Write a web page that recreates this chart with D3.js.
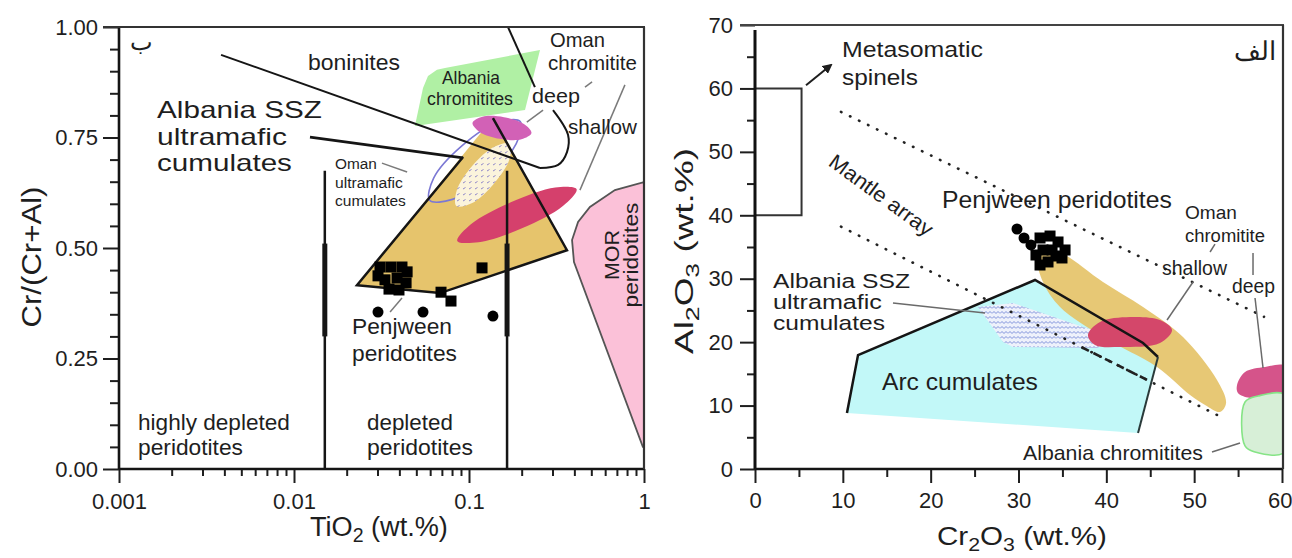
<!DOCTYPE html>
<html>
<head>
<meta charset="utf-8">
<script src="https://cdn.jsdelivr.net/npm/d3@7"></script>
<style>
  body { margin: 0; background: #fff; }
  text { font-family: "Liberation Sans", Arial, sans-serif; fill: #1e1e1e; }
</style>
</head>
<body>
<svg id="chart" width="1292" height="558"></svg>
<script>
// ---------- left panel (TiO2 vs Cr#) ----------
const yTicksL = [0, 0.25, 0.5, 0.75, 1];
const xTicksL = [0.001, 0.01, 0.1, 1];
const xTickLabelsL = ["0.001", "0.01", "0.1", "1"];

const penjSquaresL = [[0.0310,0.457],[0.0358,0.457],[0.0414,0.457],[0.0443,0.446],[0.0302,0.437],
  [0.0331,0.428],[0.0388,0.432],[0.0349,0.407],[0.0398,0.405],[0.0437,0.421],[0.0692,0.400],
  [0.0789,0.380],[0.1187,0.455]];
const penjCirclesL = [[0.0302,0.355],[0.0546,0.355],[0.137,0.346]];

const yellowL = [[0.0229,0.416],[0.0683,0.398],[0.363,0.495],[0.137,0.794]];
const yellowEdgeL = [[0.0925,0.706],[0.0229,0.416],[0.0683,0.398],[0.363,0.495],[0.137,0.794]];
const greenL = [[0.0491,0.776],[0.0546,0.862],[0.0583,0.889],[0.0656,0.903],[0.0729,0.907],[0.2545,0.948],[0.209,0.812]];
const deepL = [[0.2275,0.760],[0.1995,0.746],[0.150,0.747],[0.1156,0.762],[0.1047,0.783],[0.1194,0.797],[0.1585,0.796],[0.206,0.7805]];
const shallowL = [[0.412,0.633],[0.344,0.595],[0.2023,0.545],[0.1135,0.513],[0.0857,0.516],[0.1025,0.554],[0.1746,0.604],[0.311,0.637]];
const omanCumL = [[0.1706,0.736],[0.170,0.700],[0.1384,0.645],[0.1035,0.601],[0.0847,0.595],[0.0851,0.630],[0.1045,0.686],[0.1393,0.729]];
const omanOutlineL = [[0.1963,0.786],[0.1862,0.736],[0.1285,0.663],[0.0804,0.610],[0.0596,0.608],[0.0628,0.658],[0.0910,0.731],[0.1459,0.784]];
const morL = [[1.0,0.649],[0.682,0.631],[0.491,0.593],[0.420,0.559],[0.388,0.518],[0.398,0.468],[0.985,0.05],[1.0,0.05]];

const boninLine = [[0.00383,0.937],[0.2545,0.681]];
const boninCurve = [[0.2545,0.681],[0.323,0.688],[0.363,0.717],[0.368,0.756],[0.302,0.812]];
const boninTop = [[0.167,1.0],[0.238,0.864]];
const sszPointerL = [[0.01234,0.751],[0.0925,0.704]];
const depletionBounds = [0.015, 0.165];
const boundTop = 0.675, thickRange = [0.30, 0.51];
const greyPointersL = [
  [[0.778,0.869],[0.4305,0.631]],
  [[0.460,0.864],[0.505,0.876]],
  [[0.265,0.812],[0.214,0.785]],
  [[0.0318,0.692],[0.0443,0.672]],
  [[0.0354,0.355],[0.0414,0.387]]
];

// ---------- right panel (Cr2O3 vs Al2O3) ----------
const xTicksR = [0, 10, 20, 30, 40, 50, 60];
const yTicksR = [0, 10, 20, 30, 40, 50, 60, 70];

const penjSquaresR = [[32.45,36.42],[33.59,36.73],[34.50,35.79],[35.30,34.53],[34.95,33.27],[33.82,34.53],
  [32.79,34.53],[31.99,33.74],[32.45,32.16],[33.36,32.64],[34.27,33.58]];
const penjCirclesR = [[29.83,37.84],[30.63,36.42],[31.42,35.32]];

const metaBracket = [[0,60],[5.3,60],[5.3,40],[0,40]];
const metaArrow = [[5.81,60.5],[8.65,63.7]];
const mantleUpper = [[9.79,56.3],[57.95,24.0]];
const mantleLower = [[9.79,38.2],[53.06,8.2]];
const mantleDash = [[37.2,19.2],[45.0,13.8]];
const arcR = [[10.47,8.83],[11.73,17.97],[31.88,29.80],[44.18,19.86],[45.88,17.66],[43.61,5.68]];
const yellowR = [[32.22,33.27],[33.59,34.53],[35.30,33.74],[39.62,29.48],[44.18,25.54],[48.73,20.81],
  [52.60,14.03],[53.63,10.41],[52.94,8.99],[51.24,10.09],[49.53,11.67],[45.77,16.08],[39.62,20.81],
  [34.73,25.54],[32.79,29.48]];
const sszR = [[25.39,25.54],[29.37,26.17],[37.34,22.39],[41.56,20.65],[38.94,19.08],[29.37,19.23],[28.24,20.02]];
const shallowR = [[37.91,21.13],[39.28,23.18],[42.70,23.96],[46.11,23.49],[47.48,21.91],[46.11,19.86],[41.56,19.23],[38.71,19.55]];
const deepR = [[54.88,13.24],[55.79,15.29],[58.07,16.08],[60.34,16.24],[60.34,11.19],[56.36,11.19],[54.99,11.98]];
const albChromR = [[55.79,10.56],[57.27,11.51],[60.34,11.67],[60.34,2.68],[56.93,2.68],[55.79,3.63]];
const pointersR = [
  [[15.71,26.17],[26.19,24.59]],
  [[52.37,35.47],[51.81,34.21]],
  [[49.87,29.48],[46.91,23.49]],
  [[56.70,34.05],[56.70,30.59]],
  [[56.93,26.96],[57.84,15.92]],
  [[52.03,2.68],[55.22,4.10]]
];

const svg = d3.select("#chart");
const defs = svg.append("defs");

// patterns
const pDot = defs.append("pattern").attr("id", "dotL").attr("patternUnits", "userSpaceOnUse")
  .attr("width", 6).attr("height", 6);
pDot.append("rect").attr("width", 6).attr("height", 6).attr("fill", "#fbf4dc");
pDot.append("path").attr("d", "M1,3 l2.5,-1.5").attr("stroke", "#8f86c9").attr("stroke-width", 1);

const pZig = defs.append("pattern").attr("id", "zigR").attr("patternUnits", "userSpaceOnUse")
  .attr("width", 8).attr("height", 5);
pZig.append("rect").attr("width", 8).attr("height", 5).attr("fill", "#eef1fb");
pZig.append("path").attr("d", "M0,3.5 l2,-2 l2,2 l2,-2 l2,2").attr("fill", "none")
  .attr("stroke", "#7d90da").attr("stroke-width", 1);

defs.append("marker").attr("id", "arrow").attr("viewBox", "0 0 10 10").attr("refX", 8).attr("refY", 5)
  .attr("markerWidth", 5).attr("markerHeight", 5).attr("orient", "auto")
  .append("path").attr("d", "M0,0 L10,5 L0,10 z").attr("fill", "#1e1e1e");

// scales
const xL = d3.scaleLog().domain([0.001, 1]).range([119, 644]);
const yL = d3.scaleLinear().domain([0, 1]).range([469, 27]);
const xR = d3.scaleLinear().domain([0, 60]).range([755, 1282]);
const yR = d3.scaleLinear().domain([0, 70]).range([469, 25]);

defs.append("clipPath").attr("id", "clipL").append("rect")
  .attr("x", 119).attr("y", 27).attr("width", 525).attr("height", 442);
defs.append("clipPath").attr("id", "clipR").append("rect")
  .attr("x", 755).attr("y", 25).attr("width", 528).attr("height", 444);

const lineL = d3.line().x(d => xL(d[0])).y(d => yL(d[1]));
const smoothL = d3.line().x(d => xL(d[0])).y(d => yL(d[1])).curve(d3.curveCatmullRomClosed);
const lineR = d3.line().x(d => xR(d[0])).y(d => yR(d[1]));
const smoothR = d3.line().x(d => xR(d[0])).y(d => yR(d[1])).curve(d3.curveCatmullRomClosed);

// text helper, optional width fit
function label(g, x, y, parts, size, width, opt = {}) {
  const t = g.append("text")
    .attr("font-size", size)
    .attr("text-anchor", opt.anchor || "start");
  if (opt.family) t.attr("font-family", opt.family);
  let shift = 0;
  [].concat(parts).forEach(p => {
    const sub = typeof p !== "string";
    const target = sub ? size * 0.24 : 0;
    const ts = t.append("tspan").attr("dy", target - shift).text(sub ? p.sub : p);
    if (sub) ts.attr("font-size", size * 0.72);
    shift = target;
  });
  let tr = `translate(${x},${y}) rotate(${opt.rot || 0})`;
  if (width) {
    const w = t.node().getComputedTextLength();
    tr += ` scale(${width / w},1)`;
  }
  t.attr("transform", tr);
  return t;
}

// ================= LEFT PANEL =================
const L = svg.append("g");
const fL = L.append("g").attr("clip-path", "url(#clipL)");

fL.append("path").attr("d", lineL(yellowL) + "Z").attr("fill", "#e6c46c");
fL.append("path").attr("d", smoothL(omanOutlineL)).attr("fill", "none")
  .attr("stroke", "#7b78d4").attr("stroke-width", 1.6);
fL.append("path").attr("d", lineL(greenL) + "Z").attr("fill", "#b0f0a4");
fL.append("path").attr("d", smoothL(omanCumL)).attr("fill", "url(#dotL)");
fL.append("path").attr("d", smoothL(shallowL)).attr("fill", "#d5406c");
fL.append("path").attr("d", smoothL(deepL)).attr("fill", "#d261b6");
fL.append("path").attr("d", lineL(morL) + "Z").attr("fill", "#fbc1d8")
  .attr("stroke", "#555").attr("stroke-width", 1.8);

// field boundaries
fL.append("path").attr("d", lineL(yellowEdgeL)).attr("fill", "none")
  .attr("stroke", "#151515").attr("stroke-width", 2.5);
fL.append("path").attr("d", lineL(boninLine)).attr("fill", "none")
  .attr("stroke", "#151515").attr("stroke-width", 2);
fL.append("path").attr("d", d3.line().x(d => xL(d[0])).y(d => yL(d[1])).curve(d3.curveCatmullRom)(boninCurve))
  .attr("fill", "none").attr("stroke", "#151515").attr("stroke-width", 2);
fL.append("path").attr("d", lineL(boninTop)).attr("fill", "none")
  .attr("stroke", "#151515").attr("stroke-width", 2);
fL.append("path").attr("d", lineL(sszPointerL)).attr("fill", "none")
  .attr("stroke", "#151515").attr("stroke-width", 2.8);

depletionBounds.forEach(v => {
  fL.append("line").attr("x1", xL(v)).attr("x2", xL(v)).attr("y1", yL(0)).attr("y2", yL(boundTop))
    .attr("stroke", "#151515").attr("stroke-width", 2.5);
  fL.append("line").attr("x1", xL(v)).attr("x2", xL(v)).attr("y1", yL(thickRange[0])).attr("y2", yL(thickRange[1]))
    .attr("stroke", "#151515").attr("stroke-width", 5);
});

greyPointersL.forEach(p => {
  fL.append("path").attr("d", lineL(p)).attr("stroke", "#7a7a7a").attr("stroke-width", 1.5).attr("fill", "none");
});

// points
fL.selectAll("rect.sq").data(penjSquaresL).join("rect").attr("class", "sq")
  .attr("x", d => xL(d[0]) - 5.5).attr("y", d => yL(d[1]) - 5.5)
  .attr("width", 11).attr("height", 11).attr("fill", "#000");
fL.selectAll("circle.ci").data(penjCirclesL).join("circle").attr("class", "ci")
  .attr("cx", d => xL(d[0])).attr("cy", d => yL(d[1])).attr("r", 5.5).attr("fill", "#000");

// axes left
function styleAxis(g) {
  g.select(".domain").remove();
  g.selectAll(".tick line").attr("stroke", "#1e1e1e").attr("stroke-width", 2);
  g.selectAll(".tick text").attr("font-size", 22).attr("fill", "#111")
    .attr("font-family", "'Liberation Sans', Arial, sans-serif");
}
const yMinorL = d3.range(0, 1.0001, 0.05).filter(v => Math.abs(v * 4 - Math.round(v * 4)) > 1e-6);
L.append("g").attr("transform", "translate(119,0)")
  .call(d3.axisLeft(yL).tickValues(yMinorL).tickSize(9).tickFormat("")).call(styleAxis);
L.append("g").attr("transform", "translate(119,0)")
  .call(d3.axisLeft(yL).tickValues(yTicksL).tickSize(16).tickPadding(5).tickFormat(d3.format(".2f"))).call(styleAxis);

const xMinorL = [];
[0.001, 0.01, 0.1].forEach(dec => { for (let m = 2; m <= 9; m++) xMinorL.push(dec * m); });
L.append("g").attr("transform", "translate(0,469)")
  .call(d3.axisBottom(xL).tickValues(xMinorL).tickSize(7).tickFormat("")).call(styleAxis);
L.append("g").attr("transform", "translate(0,469)")
  .call(d3.axisBottom(xL).tickValues(xTicksL).tickSize(14).tickPadding(10)
    .tickFormat((d, i) => xTickLabelsL[i])).call(styleAxis);

// frame left
L.append("line").attr("x1", 119).attr("x2", 119).attr("y1", yL(1)).attr("y2", yL(0)).attr("stroke", "#151515").attr("stroke-width", 2.6);
L.append("line").attr("x1", 119).attr("x2", xL(1)).attr("y1", yL(0)).attr("y2", yL(0)).attr("stroke", "#151515").attr("stroke-width", 2.4);
L.append("line").attr("x1", 103).attr("x2", xL(1) + 1).attr("y1", yL(1)).attr("y2", yL(1)).attr("stroke", "#333").attr("stroke-width", 2.2);
L.append("line").attr("x1", xL(1)).attr("x2", xL(1)).attr("y1", yL(1)).attr("y2", yL(0)).attr("stroke", "#333").attr("stroke-width", 2.2);

// labels left
label(L, 141, 50, "ب", 24, null, { anchor: "middle", family: "DejaVu Sans" });
label(L, 308, 70, "boninites", 22, 92);
label(L, 157, 118, "Albania SSZ", 23, 165);
label(L, 157, 145, "ultramafic", 23, 130);
label(L, 157, 171, "cumulates", 23, 135);
label(L, 442, 84, "Albania", 17.5, 58);
label(L, 427, 105, "chromitites", 17.5, 86);
label(L, 550, 47, "Oman", 20, 55);
label(L, 548, 70, "chromitite", 20, 89);
label(L, 532, 103, "deep", 21, 48);
label(L, 568, 134, "shallow", 21, 69);
label(L, 335, 169, "Oman", 15.5, 42);
label(L, 335, 188, "ultramafic", 15.5, 68);
label(L, 335, 206, "cumulates", 15.5, 71);
label(L, 619, 255, "MOR", 21, 50, { anchor: "middle", rot: -90 });
label(L, 638, 255, "peridotites", 21, 105, { anchor: "middle", rot: -90 });
label(L, 352, 334, "Penjween", 22, 100);
label(L, 352, 361, "peridotites", 22, 105);
label(L, 138, 430, "highly depleted", 22, 152);
label(L, 138, 455, "peridotites", 22, 105);
label(L, 367, 430, "depleted", 22, 86);
label(L, 367, 455, "peridotites", 22, 106);

label(L, 41, 257, "Cr/(Cr+Al)", 28, 141, { anchor: "middle", rot: -90 });
label(L, 310, 536, ["TiO", { sub: "2" }, " (wt.%)"], 27, 138);

// ================= RIGHT PANEL =================
const R = svg.append("g");
const fR = R.append("g").attr("clip-path", "url(#clipR)");

fR.append("path").attr("d", lineR(arcR) + "Z").attr("fill", "#c2f8f8");
fR.append("path").attr("d", smoothR(yellowR)).attr("fill", "#e4c266").attr("opacity", 0.9);
fR.append("path").attr("d", lineR(sszR) + "Z").attr("fill", "url(#zigR)");
fR.append("path").attr("d", smoothR(shallowR)).attr("fill", "#d4476a");
fR.append("path").attr("d", smoothR(deepR)).attr("fill", "#d5548a");
fR.append("path").attr("d", smoothR(albChromR)).attr("fill", "#d7efd7")
  .attr("stroke", "#86e486").attr("stroke-width", 1.6);

fR.append("path").attr("d", lineR(arcR.slice(0, 5))).attr("fill", "none")
  .attr("stroke", "#151515").attr("stroke-width", 2.5);
fR.append("path").attr("d", lineR(arcR.slice(4, 6))).attr("fill", "none")
  .attr("stroke", "#2a3a3a").attr("stroke-width", 2);

[mantleUpper, mantleLower].forEach(m => {
  fR.append("path").attr("d", lineR(m)).attr("fill", "none").attr("stroke", "#222")
    .attr("stroke-width", 2.6).attr("stroke-linecap", "round").attr("stroke-dasharray", "0.5 9.5");
});
fR.append("path").attr("d", lineR(mantleDash)).attr("fill", "none").attr("stroke", "#222")
  .attr("stroke-width", 2.6).attr("stroke-dasharray", "8 5");

fR.append("path").attr("d", lineR(metaBracket)).attr("fill", "none").attr("stroke", "#333").attr("stroke-width", 2);
fR.append("path").attr("d", lineR(metaArrow)).attr("fill", "none").attr("stroke", "#1e1e1e")
  .attr("stroke-width", 2).attr("marker-end", "url(#arrow)");

pointersR.forEach(p => {
  fR.append("path").attr("d", lineR(p)).attr("stroke", "#6a6a6a").attr("stroke-width", 1.5).attr("fill", "none");
});

fR.selectAll("rect.sq").data(penjSquaresR).join("rect").attr("class", "sq")
  .attr("x", d => xR(d[0]) - 5.5).attr("y", d => yR(d[1]) - 5.5)
  .attr("width", 11).attr("height", 11).attr("fill", "#000");
fR.selectAll("circle.ci").data(penjCirclesR).join("circle").attr("class", "ci")
  .attr("cx", d => xR(d[0])).attr("cy", d => yR(d[1])).attr("r", 5.5).attr("fill", "#000");

// axes right
const yMinorR = d3.range(5, 70, 10);
const xMinorR = d3.range(5, 60, 10);
R.append("g").attr("transform", "translate(755,0)")
  .call(d3.axisLeft(yR).tickValues(yMinorR).tickSize(8).tickFormat("")).call(styleAxis);
R.append("g").attr("transform", "translate(755,0)")
  .call(d3.axisLeft(yR).tickValues(yTicksR).tickSize(15).tickPadding(7)).call(styleAxis);
R.append("g").attr("transform", "translate(0,469)")
  .call(d3.axisBottom(xR).tickValues(xMinorR).tickSize(8).tickFormat("")).call(styleAxis);
const xAxR = R.append("g").attr("transform", "translate(0,469)")
  .call(d3.axisBottom(xR).tickValues(xTicksR).tickSize(14).tickPadding(9)).call(styleAxis);
// last label sits against the page edge
xAxR.selectAll(".tick text").filter(d => d === 60).attr("text-anchor", "end").attr("dx", 10);

// frame right
R.append("line").attr("x1", 755).attr("x2", 755).attr("y1", 30).attr("y2", yR(0)).attr("stroke", "#111").attr("stroke-width", 3);
R.append("line").attr("x1", 755).attr("x2", 1283).attr("y1", yR(0)).attr("y2", yR(0)).attr("stroke", "#151515").attr("stroke-width", 2.4);
R.append("line").attr("x1", 740).attr("x2", 1284).attr("y1", yR(70)).attr("y2", yR(70)).attr("stroke", "#444").attr("stroke-width", 2.2);
R.append("line").attr("x1", 1283).attr("x2", 1283).attr("y1", yR(70)).attr("y2", yR(0)).attr("stroke", "#333").attr("stroke-width", 2.2);

// labels right
label(R, 1276, 60, "الف", 26, null, { anchor: "end", family: "DejaVu Sans" });
label(R, 842, 57, "Metasomatic", 22, 141);
label(R, 842, 85, "spinels", 22, 76);
label(R, 877, 201, "Mantle array", 21, 123, { anchor: "middle", rot: 36 });
label(R, 942, 208, "Penjween peridotites", 23, 230);
label(R, 1185, 219, "Oman", 19, 52);
label(R, 1185, 242, "chromitite", 19, 80);
label(R, 1162, 275, "shallow", 19.5, 65);
label(R, 1232, 293, "deep", 19.5, 43);
label(R, 1023, 460, "Albania chromitites", 21, 180);
label(R, 773, 288, "Albania SSZ", 20, 137);
label(R, 773, 309, "ultramafic", 20, 109);
label(R, 773, 330, "cumulates", 20, 112);
label(R, 882, 390, "Arc cumulates", 24, 156);

label(R, 693, 251, ["Al", { sub: "2" }, "O", { sub: "3" }, " (wt.%)"], 26, 206, { anchor: "middle", rot: -90 });
label(R, 937, 545, ["Cr", { sub: "2" }, "O", { sub: "3" }, " (wt.%)"], 26, 170);
</script>
</body>
</html>
